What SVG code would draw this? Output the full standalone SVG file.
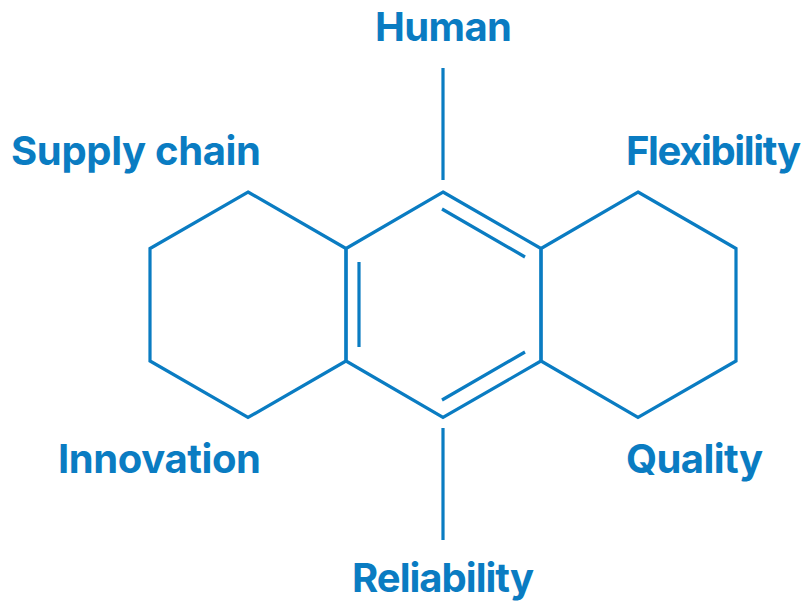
<svg xmlns="http://www.w3.org/2000/svg" width="803" height="602" viewBox="0 0 803 602">
<style>
.b{fill:none;stroke:#0a7cc2;stroke-width:3.2;stroke-linecap:butt;stroke-linejoin:miter}
text{font-family:"Inter","Liberation Sans",sans-serif;font-size:40px;font-weight:700;fill:#0a7cc2}
</style>
<rect width="803" height="602" fill="#fff"/>
<g id="connectors">
<path class="b" d="M248 192L346 248.500V361L248 417.500L150 361V248.500Z"/>
<path class="b" d="M443 192L541 248.500V361L443 417.500L346 361V248.500Z"/>
<path class="b" d="M638 192L736 248.500V361L638 417.500L541 361V248.500Z"/>
<path class="b" d="M442 209L525 257M359 262V347M442 400L525 352"/>
<path class="b" d="M443 68V180M443 428V540"/>
</g>
<g id="human"><text x="375" y="41" textLength="137">Human</text></g>
<g id="supply"><text x="11" y="165" textLength="250">Supply chain</text></g>
<g id="flex"><text x="626" y="165" textLength="175">Flexibility</text></g>
<g id="innovation"><text x="58" y="473" textLength="203">Innovation</text></g>
<g id="quality"><text x="626" y="473" textLength="137">Quality</text></g>
<g id="reliability"><text x="352" y="592" textLength="182">Reliability</text></g>
</svg>
